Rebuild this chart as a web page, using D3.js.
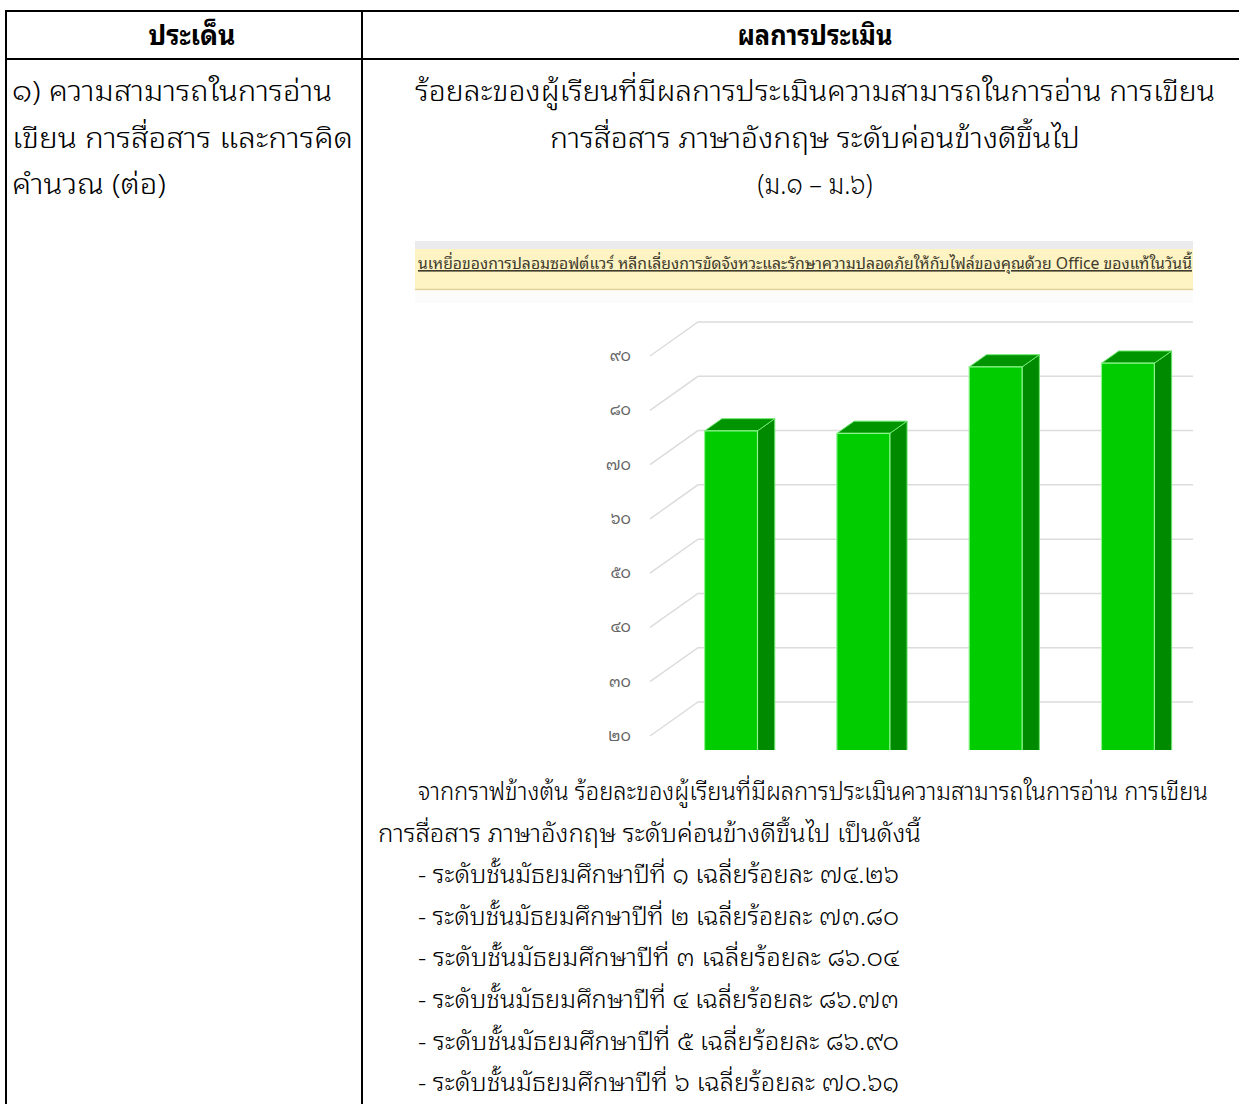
<!DOCTYPE html>
<html><head><meta charset="utf-8">
<script src="https://cdn.jsdelivr.net/npm/d3@7"></script>
<style>html,body{margin:0;padding:0;background:#fff;} svg{display:block;}</style>
</head><body><svg id="c" width="1239" height="1104"></svg>
<script>
// ---------- data ----------
const categories = ["ม.๑","ม.๒","ม.๓","ม.๔","ม.๕","ม.๖"];
const levelDigits = ["๑","๒","๓","๔","๕","๖"];
const values = [74.26, 73.80, 86.04, 86.73, 86.90, 70.61];
const yTicks = [20,30,40,50,60,70,80,90];
const yTickLabels = ["๒๐","๓๐","๔๐","๕๐","๖๐","๗๐","๘๐","๙๐"];
const headerLabels = ["ประเด็น","ผลการประเมิน"];
const topicLines = ["๑) ความสามารถในการอ่าน","เขียน การสื่อสาร และการคิด","คำนวณ (ต่อ)"];
const titleLines = ["ร้อยละของผู้เรียนที่มีผลการประเมินความสามารถในการอ่าน การเขียน","การสื่อสาร ภาษาอังกฤษ ระดับค่อนข้างดีขึ้นไป","(ม.๑ – ม.๖)"];
const bannerText = "นเหยื่อของการปลอมซอฟต์แวร์ หลีกเลี่ยงการขัดจังหวะและรักษาความปลอดภัยให้กับไฟล์ของคุณด้วย Office ของแท้ในวันนี้";
const summaryIntro = ["จากกราฟข้างต้น ร้อยละของผู้เรียนที่มีผลการประเมินความสามารถในการอ่าน การเขียน","การสื่อสาร ภาษาอังกฤษ ระดับค่อนข้างดีขึ้นไป เป็นดังนี้"];

const thaiNum = s => String(s).replace(/[0-9]/g, d => "๐๑๒๓๔๕๖๗๘๙"[+d]);
const FONT = "'Noto Sans Thai Looped','Noto Sans Thai','Noto Sans','DejaVu Sans',sans-serif";

const svg = d3.select("#c").style("font-family", FONT);

// ---------- table ----------
const T = svg.append("g");
const hl = (y)=>T.append("line").attr("x1",5).attr("x2",1239).attr("y1",y).attr("y2",y).attr("stroke","#000").attr("stroke-width",2);
const vl = (x)=>T.append("line").attr("x1",x).attr("x2",x).attr("y1",10).attr("y2",1104).attr("stroke","#000").attr("stroke-width",2);
hl(11); hl(59); vl(6); vl(362);

const TITLE_FS = 28, BODY_FS = 24, LIGHT = 300;

// header
const headX = [192, 815], headLen = [87, 155];
T.selectAll("text.head").data(headerLabels).join("text")
  .attr("class","head").attr("x",(d,i)=>headX[i]).attr("y",45)
  .attr("text-anchor","middle").attr("font-weight","bold").attr("font-size",TITLE_FS)
  .attr("textLength",(d,i)=>headLen[i]).attr("lengthAdjust","spacingAndGlyphs")
  .attr("fill","#000").text(d=>d);

// title lines (right column)
const titleLen = [800, 530, 115];
T.selectAll("text.title").data(titleLines).join("text")
  .attr("class","title").attr("x",815).attr("y",(d,i)=>101+i*46.5)
  .attr("text-anchor","middle").attr("font-size",TITLE_FS).attr("font-weight",LIGHT)
  .attr("textLength",(d,i)=>titleLen[i]).attr("lengthAdjust","spacingAndGlyphs")
  .attr("fill","#000").text(d=>d);

// topic lines (left column)
const topicLen = [320, 341, 154];
T.selectAll("text.topic").data(topicLines).join("text")
  .attr("class","topic").attr("x",12).attr("y",(d,i)=>101+i*46.5)
  .attr("font-size",TITLE_FS).attr("font-weight",LIGHT)
  .attr("textLength",(d,i)=>topicLen[i]).attr("lengthAdjust","spacingAndGlyphs")
  .attr("fill","#000").text(d=>d);

// ---------- screenshot of chart ----------
const S = svg.append("g");
S.append("rect").attr("x",415).attr("y",241).attr("width",778).attr("height",9).attr("fill","#ebebed");
S.append("rect").attr("x",415).attr("y",249).attr("width",778).attr("height",41).attr("fill","#fdf3c3");
S.append("line").attr("x1",415).attr("x2",1193).attr("y1",289.5).attr("y2",289.5).attr("stroke","#e0d49a").attr("stroke-width",1.5);
S.append("rect").attr("x",415).attr("y",291).attr("width",778).attr("height",12).attr("fill","#fbfbfc");
S.append("text").attr("x",418).attr("y",269).attr("font-size",16).attr("fill","#3e3a2c")
  .attr("text-decoration","underline").attr("textLength",774).attr("lengthAdjust","spacingAndGlyphs")
  .text(bannerText);

svg.append("defs").append("clipPath").attr("id","clip")
  .append("rect").attr("x",415).attr("y",300).attr("width",778).attr("height",450);

const C = svg.append("g").attr("clip-path","url(#clip)");
const DX = 48, DY = -34, FX = 650;
const yB = d3.scaleLinear().domain([20,90]).range([702,322]);
const yF = v => yB(v) - DY;
const x = d3.scaleBand().domain(categories).range([FX, FX + 6*132.3]).paddingInner(0.6).paddingOuter(0.3);

// gridlines
C.selectAll("path.grid").data(yTicks).join("path").attr("class","grid")
  .attr("d", v => `M${FX},${yF(v)}L${FX+DX},${yB(v)}L1200,${yB(v)}`)
  .attr("fill","none").attr("stroke","#dcdcdc").attr("stroke-width",1.5);

// tick labels
C.selectAll("text.tick").data(yTicks).join("text").attr("class","tick")
  .attr("x",631).attr("y",v=>yF(v)+5).attr("text-anchor","end")
  .attr("font-size",16).attr("fill","#666").text((v,i)=>yTickLabels[i]);

// bars
const f0 = 0.31, f1 = 0.67;
const bottomV = 0;
const P = (xf, v, f) => [xf + f*DX, yF(v) + f*DY];
const bars = C.selectAll("g.bar").data(values).join("g").attr("class","bar");
bars.each(function(v,i){
  const g = d3.select(this);
  const xl = x(categories[i]), xr = xl + x.bandwidth();
  const a = P(xl,v,f0), b = P(xr,v,f0), c = P(xr,v,f1), d = P(xl,v,f1);
  const bb = P(xr,bottomV,f0), cb = P(xr,bottomV,f1), ab = P(xl,bottomV,f0);
  g.append("path").attr("d",`M${b}L${c}L${cb}L${bb}Z`).attr("fill","#008a00").attr("stroke","#6ee86e").attr("stroke-width",1);
  g.append("path").attr("d",`M${a}L${b}L${c}L${d}Z`).attr("fill","#009400").attr("stroke","#6ee86e").attr("stroke-width",1);
  g.append("path").attr("d",`M${a}L${b}L${bb}L${ab}Z`).attr("fill","#00cc00").attr("stroke","#8cf58c").attr("stroke-width",1.2);
});

// ---------- summary text ----------
const listLines = values.map((v,i)=>`- ระดับชั้นมัธยมศึกษาปีที่ ${levelDigits[i]} เฉลี่ยร้อยละ ${thaiNum(v.toFixed(2))}`);
const allLines = summaryIntro.concat(listLines);
const xs = [418, 378].concat(listLines.map(()=>418));
const lens = [790, 543].concat(listLines.map(()=>481));
svg.selectAll("text.sum").data(allLines).join("text").attr("class","sum")
  .attr("x",(d,i)=>xs[i]).attr("y",(d,i)=>800+i*41.6).attr("font-size",BODY_FS).attr("font-weight",LIGHT)
  .attr("textLength",(d,i)=>lens[i]).attr("lengthAdjust","spacingAndGlyphs")
  .attr("fill","#000").text(d=>d);
</script></body></html>
